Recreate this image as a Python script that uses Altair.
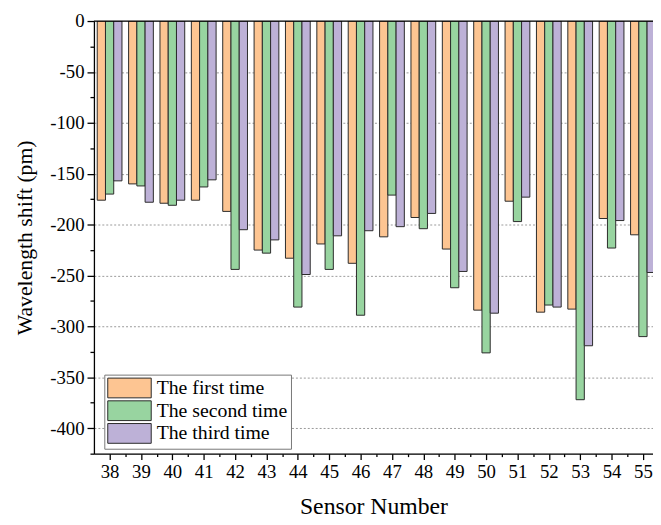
import altair as alt
import pandas as pd

sensors = list(range(38, 56))
series_names = ["The first time", "The second time", "The third time"]
first = [-176, -160, -179, -176, -187, -225, -233, -219, -238, -212, -193, -224, -284, -177, -286, -283, -194, -210]
second = [-170, -162, -181, -163, -244, -228, -281, -244, -289, -171, -204, -262, -326, -197, -279, -372, -223, -310]
third = [-157, -178, -176, -156, -205, -215, -249, -211, -206, -202, -189, -246, -287, -173, -281, -319, -196, -247]
colors = ["#FDC592", "#98D4A0", "#BDB1D7"]

rows = []
for idx, (name, vals) in enumerate(zip(series_names, [first, second, third])):
    for s, v in zip(sensors, vals):
        rows.append({"sensor": s, "series": name, "idx": idx, "value": v})
df = pd.DataFrame(rows)

FONT = "Liberation Serif"
x_ticks = [38 + 0.5 * i for i in range(35)]
y_ticks = [-25 * i for i in range(18)]

x_scale = alt.Scale(domain=[37.5, 55.32], nice=False, zero=False)
y_scale = alt.Scale(domain=[-425, 0], nice=False)

bars = alt.Chart(df).transform_calculate(
    x0="datum.sensor - 0.395 + datum.idx * 0.263",
    x1="datum.sensor - 0.395 + (datum.idx + 1) * 0.263",
).mark_bar(stroke="#2a2a2a", strokeWidth=1, clip=True).encode(
    x=alt.X("x0:Q", scale=x_scale, axis=alt.Axis(
        values=x_ticks,
        labelExpr="datum.value % 1 === 0 ? '' + datum.value : ''",
        tickSize={"condition": {"test": "datum.value % 1 === 0", "value": 6}, "value": 3},
        grid=False, title="Sensor Number", titleFont=FONT, titleFontSize=24,
        titleFontWeight="normal", titleColor="black", titlePadding=14,
        labelFont=FONT, labelFontSize=19, labelColor="black", labelPadding=3,
        domainColor="black", domainWidth=1.3, tickColor="black", tickWidth=1.3,
        labelOverlap=False, labelFlush=False,
    )),
    x2="x1:Q",
    y=alt.Y("value:Q", scale=y_scale, axis=alt.Axis(
        values=y_ticks,
        labelExpr="abs(datum.value) % 50 == 0 ? '' + datum.value : ''",
        tickSize={"condition": {"test": "abs(datum.value) % 50 == 0", "value": 7}, "value": 4},
        grid=True,
        gridOpacity={"condition": {"test": "abs(datum.value) % 50 == 0 && datum.value != 0", "value": 1}, "value": 0},
        gridColor="#999999", gridDash=[2, 2], gridWidth=1,
        title="Wavelength shift (pm)", titleFont=FONT, titleFontSize=22,
        titleFontWeight="normal", titleColor="black", titlePadding=13,
        labelFont=FONT, labelFontSize=19, labelColor="black", labelPadding=3,
        domainColor="black", domainWidth=1.3, tickColor="black", tickWidth=1.3,
        labelOverlap=False, labelFlush=False,
    )),
    y2=alt.datum(0),
    color=alt.Color("series:N", scale=alt.Scale(domain=series_names, range=colors),
                    legend=alt.Legend(
                        title=None, orient="none", legendX=10.5, legendY=358,
                        symbolType="M-2.2,-1H2.2V1H-2.2Z", symbolSize=400,
                        symbolOffset=12, labelOffset=17,
                        symbolStrokeColor="#2a2a2a", symbolStrokeWidth=1,
                        labelFont=FONT, labelFontSize=20, labelColor="black",
                        labelLimit=300, rowPadding=-2, padding=3,
                        strokeColor="#777777", fillColor="white",
                    )),
)

top_line = alt.Chart(pd.DataFrame({"z": [0]})).mark_rule(color="black", strokeWidth=1.3).encode(
    y=alt.Y("z:Q", scale=y_scale, axis=None)
)

chart = alt.layer(bars, top_line).resolve_axis(y="independent").properties(
    width=566, height=438,
    autosize=alt.AutoSizeParams(type="none"),
    padding={"left": 87, "top": 10, "right": 0, "bottom": 67},
).configure_view(stroke=None).configure(background="white")

chart.save("out.html", embed_options={"renderer": "svg", "actions": False})
